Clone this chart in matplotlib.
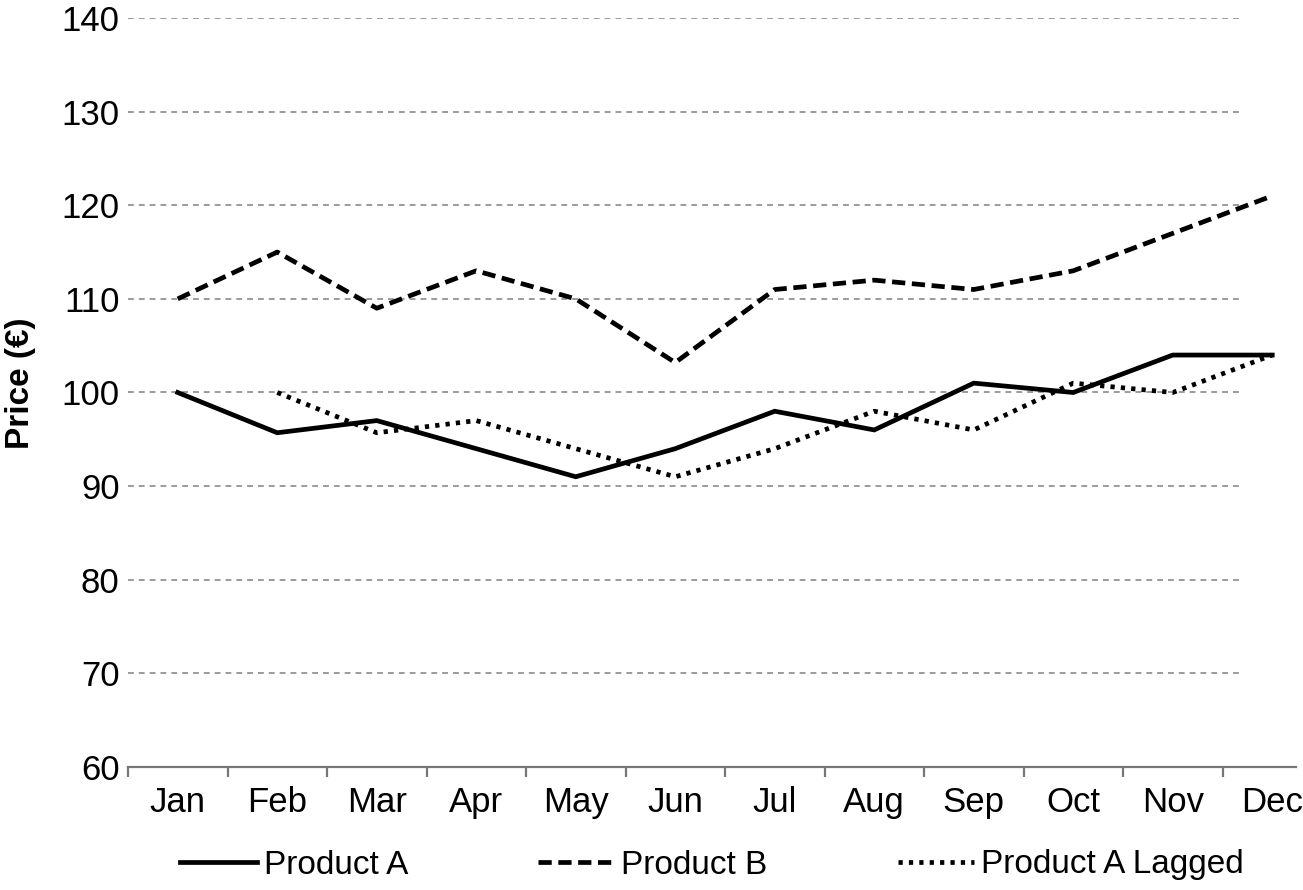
import matplotlib
matplotlib.use("Agg")
import matplotlib.pyplot as plt

plt.rcParams['font.family'] = ['Liberation Sans', 'DejaVu Sans']

months = ["Jan", "Feb", "Mar", "Apr", "May", "Jun", "Jul", "Aug", "Sep", "Oct", "Nov", "Dec"]
product_a = [100, 95.7, 97, 94, 91, 94, 98, 96, 101, 100, 104, 104]
product_b = [110, 115, 109, 113, 110, 103.2, 111, 112, 111, 113, 117, 121]
product_a_lagged = [None, 100, 95.7, 97, 94, 91, 94, 98, 96, 101, 100, 104]
y_ticks = [60, 70, 80, 90, 100, 110, 120, 130, 140]

W, H = 1303, 890
fig = plt.figure(figsize=(W / 100, H / 100), dpi=100)
left_px, right_px, top_px, bot_px = 128, 1322, 18, 767
ax = fig.add_axes([left_px / W, 1 - bot_px / H, (right_px - left_px) / W, (bot_px - top_px) / H])

x = list(range(len(months)))
lag_x = [i for i, v in zip(x, product_a_lagged) if v is not None]
lag_y = [v for v in product_a_lagged if v is not None]

lw = 3.4
ax.plot(x, product_a, color='black', lw=lw, solid_joinstyle='miter', zorder=3, label='Product A')
ax.plot(x, product_b, color='black', lw=lw, linestyle=(0, (2.8, 1.4)), dash_capstyle='butt', zorder=3, label='Product B')
ax.plot(lag_x, lag_y, color='black', lw=lw, linestyle=(0, (0.9, 1.3)), dash_capstyle='butt', zorder=3, label='Product A Lagged')

ax.set_xlim(-0.5, 11.5)
ax.set_ylim(60, 140)

grid_end = (1240 - left_px) / 99.5 - 0.5
ax.hlines(y_ticks[1:], -0.5, grid_end, colors='#8a8a8a', lw=1.2, linestyles=[(0, (3.5, 3))], zorder=1)

for s in ['top', 'right', 'left']:
    ax.spines[s].set_visible(False)
ax.spines['bottom'].set_color('#777777')
ax.spines['bottom'].set_linewidth(1.6)
ax.spines['bottom'].set_bounds(-0.5, (1296 - left_px) / 99.5 - 0.5)

fs = 25
ax.set_xticks(x)
ax.set_xticklabels(months, fontsize=fs)
ax.set_xticks([i - 0.5 for i in range(len(months) + 1)], minor=True)
ax.tick_params(axis='x', which='major', length=0, pad=14)
ax.tick_params(axis='x', which='minor', length=7, width=1.6, color='#777777', direction='out')

ax.set_yticks(y_ticks)
ax.set_yticklabels([str(v) for v in y_ticks], fontsize=fs)
ax.tick_params(axis='y', length=0, pad=6)

fig.text(20 / W, 1 - 383 / H, "Price (€)", rotation=90, fontsize=24, fontweight='bold',
         ha='center', va='center')

handles, labels = ax.get_legend_handles_labels()
fig.legend(handles, labels, loc='center', bbox_to_anchor=(712 / W, 1 - 865 / H), ncol=3,
           frameon=False, fontsize=24, handlelength=2.3, handletextpad=0.2, columnspacing=3.9)

fig.savefig("out.png", dpi=100)
